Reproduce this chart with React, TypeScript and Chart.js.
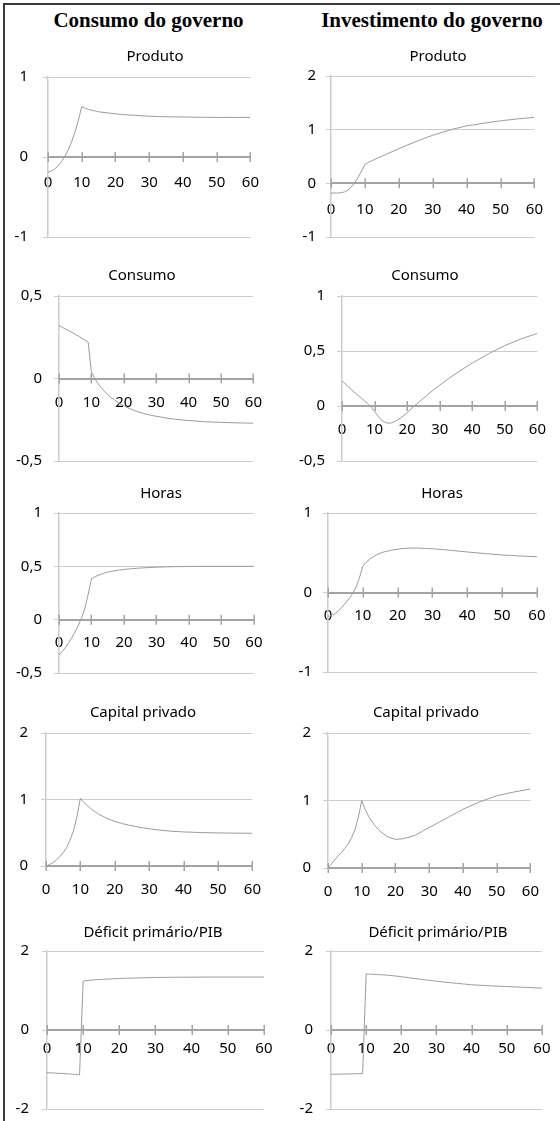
import React, { useEffect, useRef } from 'react';
import { Chart, registerables } from 'chart.js';

Chart.register(...registerables);

// ---------- data ----------
const T = [0, 1, 2, 3, 4, 5, 6, 7, 8, 9, 10, 11, 12, 13, 14, 15, 16, 18, 20, 22, 24, 26, 28, 30, 33, 36, 40, 45, 50, 55, 60];
const xTicks = [0, 10, 20, 30, 40, 50, 60];

const headers = ['Consumo do governo', 'Investimento do governo'];
const panelTitles = ['Produto', 'Consumo', 'Horas', 'Capital privado', 'Déficit primário/PIB'];

// Consumo do governo
const cgProduto = [-0.19, -0.175, -0.15, -0.11, -0.06, 0.01, 0.09, 0.19, 0.31, 0.46, 0.63, 0.61, 0.595, 0.585, 0.575, 0.565, 0.56, 0.55, 0.54, 0.532, 0.525, 0.52, 0.515, 0.51, 0.505, 0.502, 0.5, 0.497, 0.495, 0.495, 0.495];
const cgConsumo = [0.32, 0.31, 0.3, 0.29, 0.28, 0.268, 0.257, 0.245, 0.233, 0.22, 0.04, 0.0, -0.03, -0.055, -0.077, -0.097, -0.114, -0.142, -0.165, -0.184, -0.199, -0.211, -0.221, -0.229, -0.239, -0.247, -0.255, -0.262, -0.266, -0.269, -0.271];
const cgHoras = [-0.33, -0.3, -0.26, -0.215, -0.165, -0.11, -0.05, 0.02, 0.11, 0.24, 0.385, 0.4, 0.415, 0.427, 0.437, 0.445, 0.452, 0.463, 0.471, 0.477, 0.482, 0.486, 0.489, 0.492, 0.495, 0.497, 0.499, 0.5, 0.5, 0.5, 0.5];
const cgCapital = [0, 0.02, 0.05, 0.09, 0.14, 0.2, 0.28, 0.39, 0.53, 0.74, 1.02, 0.96, 0.91, 0.865, 0.825, 0.79, 0.76, 0.71, 0.67, 0.64, 0.615, 0.595, 0.575, 0.56, 0.54, 0.525, 0.512, 0.503, 0.497, 0.494, 0.492];
const cgDeficit = [-1.08, -1.085, -1.09, -1.095, -1.1, -1.105, -1.11, -1.12, -1.125, -1.135, 1.24, 1.25, 1.26, 1.268, 1.275, 1.28, 1.285, 1.295, 1.305, 1.31, 1.315, 1.32, 1.325, 1.33, 1.333, 1.336, 1.338, 1.34, 1.34, 1.34, 1.34];

// Investimento do governo
const igProduto = [-0.18, -0.18, -0.18, -0.175, -0.16, -0.125, -0.065, 0.01, 0.11, 0.23, 0.35, 0.39, 0.42, 0.45, 0.48, 0.505, 0.53, 0.59, 0.645, 0.7, 0.75, 0.8, 0.85, 0.895, 0.955, 1.01, 1.07, 1.12, 1.165, 1.2, 1.23];
const igConsumo = [0.23, 0.2, 0.175, 0.145, 0.12, 0.095, 0.07, 0.045, 0.02, -0.01, -0.05, -0.09, -0.125, -0.145, -0.155, -0.155, -0.145, -0.11, -0.06, -0.005, 0.045, 0.095, 0.145, 0.19, 0.255, 0.315, 0.39, 0.475, 0.55, 0.61, 0.66];
const igHoras = [-0.3, -0.29, -0.265, -0.23, -0.185, -0.135, -0.08, -0.02, 0.06, 0.18, 0.33, 0.38, 0.42, 0.45, 0.475, 0.495, 0.51, 0.53, 0.545, 0.555, 0.56, 0.558, 0.555, 0.55, 0.54, 0.527, 0.51, 0.49, 0.472, 0.46, 0.45];
const igCapital = [0, 0.06, 0.12, 0.18, 0.23, 0.29, 0.36, 0.45, 0.57, 0.75, 1.0, 0.87, 0.77, 0.69, 0.62, 0.565, 0.52, 0.455, 0.425, 0.432, 0.455, 0.49, 0.545, 0.6, 0.68, 0.76, 0.87, 0.98, 1.07, 1.125, 1.17];
const igDeficit = [-1.12, -1.12, -1.118, -1.116, -1.114, -1.112, -1.11, -1.108, -1.106, -1.104, 1.42, 1.415, 1.41, 1.405, 1.4, 1.395, 1.388, 1.37, 1.35, 1.325, 1.3, 1.28, 1.257, 1.235, 1.205, 1.18, 1.145, 1.12, 1.1, 1.08, 1.06];

// y tick labels
const yTicksProdutoCG = [-1, 0, 1];
const yTicksProdutoIG = [-1, 0, 1, 2];
const yTicksConsumoCG = [-0.5, 0, 0.5];
const yTicksConsumoIG = [-0.5, 0, 0.5, 1];
const yTicksHorasCG = [-0.5, 0, 0.5, 1];
const yTicksHorasIG = [-1, 0, 1];
const yTicksCapital = [0, 1, 2];
const yTicksDeficit = [-2, 0, 2];

// ---------- layout (page pixel geometry) ----------
type Spec = {
  title: string; values: number[]; yTicks: number[];
  canvasLeft: number; axisX: number; rightX: number; topY: number; bottomY: number;
  labelPad: number; xPad: number; titleX: number; titleBase: number;
};

const L = 6, R = 284;
const specs: Spec[] = [
  { title: panelTitles[0], values: cgProduto, yTicks: yTicksProdutoCG, canvasLeft: L, axisX: 48, rightX: 262, topY: 77, bottomY: 237, labelPad: 15, xPad: 17, titleX: 155, titleBase: 61 },
  { title: panelTitles[0], values: igProduto, yTicks: yTicksProdutoIG, canvasLeft: R, axisX: 331, rightX: 546, topY: 76, bottomY: 237, labelPad: 10, xPad: 17, titleX: 438, titleBase: 61 },
  { title: panelTitles[1], values: cgConsumo, yTicks: yTicksConsumoCG, canvasLeft: L, axisX: 59, rightX: 263, topY: 296, bottomY: 461, labelPad: 12, xPad: 15, titleX: 142, titleBase: 280 },
  { title: panelTitles[1], values: igConsumo, yTicks: yTicksConsumoIG, canvasLeft: R, axisX: 342, rightX: 547, topY: 296, bottomY: 461, labelPad: 12, xPad: 15, titleX: 425, titleBase: 280 },
  { title: panelTitles[2], values: cgHoras, yTicks: yTicksHorasCG, canvasLeft: L, axisX: 59, rightX: 263, topY: 513, bottomY: 673, labelPad: 12, xPad: 14.5, titleX: 161, titleBase: 498 },
  { title: panelTitles[2], values: igHoras, yTicks: yTicksHorasIG, canvasLeft: R, axisX: 328, rightX: 546, topY: 513, bottomY: 672, labelPad: 11, xPad: 14.5, titleX: 442, titleBase: 498 },
  { title: panelTitles[3], values: cgCapital, yTicks: yTicksCapital, canvasLeft: L, axisX: 46, rightX: 262, topY: 733, bottomY: 866, labelPad: 13, xPad: 15, titleX: 143, titleBase: 717 },
  { title: panelTitles[3], values: igCapital, yTicks: yTicksCapital, canvasLeft: R, axisX: 328, rightX: 540, topY: 733, bottomY: 868, labelPad: 12, xPad: 15, titleX: 426, titleBase: 717 },
  { title: panelTitles[4], values: cgDeficit, yTicks: yTicksDeficit, canvasLeft: L, axisX: 47, rightX: 268, topY: 951, bottomY: 1109, labelPad: 13, xPad: 9.5, titleX: 153, titleBase: 937 },
  { title: panelTitles[4], values: igDeficit, yTicks: yTicksDeficit, canvasLeft: R, axisX: 331, rightX: 546, topY: 951, bottomY: 1109, labelPad: 13, xPad: 9.5, titleX: 438, titleBase: 937 },
];

const FONT = "'Noto Sans', sans-serif";
const GRID = '#cccccc';
const AXIS = '#a3a3a3';
const LINE = '#9c9c9c';
const PAD_TOP = 45, PAD_BOTTOM = 36, PAD_RIGHT = 14;

function Panel({ spec }: { spec: Spec }) {
  const ref = useRef<HTMLCanvasElement>(null);
  const cl = spec.canvasLeft;
  const ct = spec.topY - PAD_TOP;
  const W = spec.rightX + PAD_RIGHT - cl;
  const H = spec.bottomY + PAD_BOTTOM - ct;

  useEffect(() => {
    if (!ref.current) return;
    const yMin = Math.min(...spec.yTicks);
    const yMax = Math.max(...spec.yTicks);
    const crossTicks = {
      id: 'crossTicks',
      beforeDatasetsDraw(chart: any) {
        const xs = chart.scales.x, ys = chart.scales.y;
        const y0 = ys.getPixelForValue(0);
        const ctx = chart.ctx;
        ctx.save();
        ctx.strokeStyle = AXIS;
        ctx.lineWidth = 1.5;
        ctx.beginPath();
        xTicks.forEach((v) => {
          const px = Math.round(xs.getPixelForValue(v)) + 0.25;
          ctx.moveTo(px, y0 - 5);
          ctx.lineTo(px, y0 + 5);
        });
        ctx.stroke();
        ctx.restore();
      },
    };
    const panelTitle = {
      id: 'panelTitle',
      afterDraw(chart: any) {
        const ctx = chart.ctx;
        ctx.save();
        ctx.font = `15px ${FONT}`;
        ctx.fillStyle = '#000';
        ctx.textAlign = 'center';
        ctx.textBaseline = 'alphabetic';
        ctx.fillText(spec.title, spec.titleX - cl, spec.titleBase - ct);
        ctx.restore();
      },
    };
    const chart = new Chart(ref.current, {
      type: 'line',
      data: {
        datasets: [{
          data: T.map((t, i) => ({ x: t, y: spec.values[i] })),
          borderColor: LINE,
          borderWidth: 1,
          pointRadius: 0,
          tension: 0,
          fill: false,
        }],
      },
      options: {
        animation: false,
        responsive: false,
        maintainAspectRatio: false,
        events: [],
        layout: { padding: { left: 0, top: PAD_TOP, right: PAD_RIGHT, bottom: PAD_BOTTOM } },
        plugins: { legend: { display: false }, tooltip: { enabled: false }, title: { display: false } },
        scales: {
          x: {
            type: 'linear',
            min: 0,
            max: 60,
            position: { y: 0 } as any,
            afterBuildTicks: (s: any) => { s.ticks = xTicks.map((v) => ({ value: v })); },
            grid: { display: true, drawOnChartArea: false, drawTicks: false },
            border: { display: true, color: AXIS, width: 2 },
            ticks: { padding: spec.xPad, font: { family: FONT, size: 15 }, color: '#000', maxRotation: 0, autoSkip: false },
          },
          y: {
            type: 'linear',
            position: 'left',
            min: yMin,
            max: yMax,
            afterBuildTicks: (s: any) => { s.ticks = spec.yTicks.map((v) => ({ value: v })); },
            afterFit: (s: any) => { s.width = spec.axisX - cl; },
            grid: { color: GRID, lineWidth: 1, drawTicks: true, tickLength: 5 },
            border: { display: true, color: GRID, width: 1.5 },
            ticks: {
              padding: spec.labelPad,
              font: { family: FONT, size: 15 },
              color: '#000',
              callback: (v: any) => String(v).replace('.', ','),
            },
          },
        },
      },
      plugins: [crossTicks, panelTitle],
    });
    return () => chart.destroy();
  }, []);

  return (
    <canvas
      ref={ref}
      width={W}
      height={H}
      style={{ position: 'absolute', left: cl, top: ct, width: W, height: H }}
    />
  );
}

export default function App() {
  const headerStyle: React.CSSProperties = {
    position: 'absolute',
    top: 8,
    height: 24,
    lineHeight: '24px',
    fontFamily: "'Liberation Serif', 'Times New Roman', serif",
    fontWeight: 'bold',
    fontSize: 21,
    color: '#000',
    textAlign: 'center',
    whiteSpace: 'nowrap',
  };
  return (
    <div style={{ position: 'absolute', left: 0, top: 0, width: 560, height: 1121, background: '#fff', overflow: 'hidden' }}>
      <div style={{ position: 'absolute', left: 3, top: 3, width: 557, height: 1.5, background: '#3a3a3a' }} />
      <div style={{ position: 'absolute', left: 3, top: 3, width: 2, height: 1118, background: '#3a3a3a' }} />
      <div style={{ ...headerStyle, left: 48.5, width: 200 }}>{headers[0]}</div>
      <div style={{ ...headerStyle, left: 317, width: 230 }}>{headers[1]}</div>
      {specs.map((s, i) => <Panel key={i} spec={s} />)}
    </div>
  );
}
